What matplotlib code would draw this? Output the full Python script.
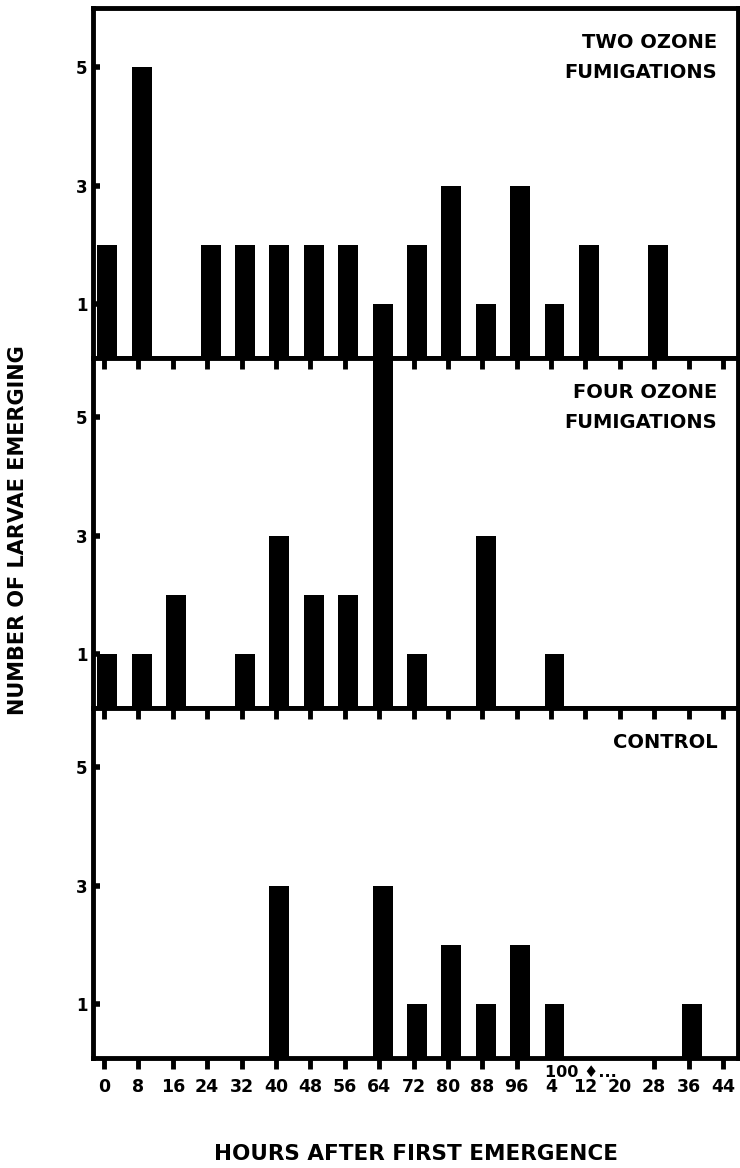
import matplotlib
matplotlib.use('Agg')
import matplotlib.pyplot as plt

plt.rcParams['font.family'] = ['DejaVu Sans']
plt.rcParams['font.weight'] = 'bold'

# hours after first emergence (tick labels wrap after 100)
tick_labels = ['0', '8', '16', '24', '32', '40', '48', '56', '64', '72',
               '80', '88', '96', '4', '12', '20', '28', '36', '44']

# number of larvae emerging in each 8 h interval
two_ozone = [2, 5, 0, 2, 2, 2, 2, 2, 1, 2, 3, 1, 3, 1, 2, 0, 2, 0, 0]
four_ozone = [1, 1, 2, 0, 1, 3, 2, 2, 6, 1, 0, 3, 0, 1, 0, 0, 0, 0, 0]
control = [0, 0, 0, 0, 0, 3, 0, 0, 3, 1, 2, 1, 2, 1, 0, 0, 0, 1, 0]

panels = [(two_ozone, 'TWO OZONE\nFUMIGATIONS'),
          (four_ozone, 'FOUR OZONE\nFUMIGATIONS'),
          (control, 'CONTROL')]

fig, axes = plt.subplots(3, 1, figsize=(7.4, 11.68), dpi=100, sharex=True)
fig.subplots_adjust(left=0.1257, right=0.997, top=0.993, bottom=0.094, hspace=0)

x = list(range(len(tick_labels)))
for k, (ax, (vals, label)) in enumerate(zip(axes, panels)):
    # bars sit a touch right of the tick marks in the original drawing
    ax.bar([i + 0.1 for i in x], vals, width=0.58, color='black')
    ax.set_xlim(-0.32, 18.43)
    ax.set_ylim(0.09, 6.0)
    ax.set_yticks([1, 3, 5])
    ax.tick_params(axis='y', direction='in', length=5, width=4, labelsize=12, pad=4)
    for s in ax.spines.values():
        s.set_linewidth(3.5)
    ax.text(0.968, 0.93, label, transform=ax.transAxes, ha='right', va='top',
            fontsize=14, fontweight='bold', linespacing=1.75)
    if k > 0:
        top = ax.secondary_xaxis('top')
        top.set_xticks(x)
        top.tick_params(direction='in', length=8, width=3.5, labeltop=False)
        top.spines['top'].set_visible(False)
    if k < 2:
        ax.tick_params(axis='x', bottom=False)

ax = axes[2]
ax.set_xticks(x)
ax.set_xticklabels(tick_labels)
ax.tick_params(axis='x', direction='out', length=8, width=3.5, labelsize=12.5, pad=6)
for i in (13, 14, 15):
    ax.xaxis.get_major_ticks()[i].tick1line.set_visible(False)
ax.text(12.82, -0.04, '100 \u2666...', transform=ax.get_xaxis_transform(),
        ha='left', va='center', fontsize=11.5, fontweight='bold')

fig.text(0.024, 0.546, 'NUMBER OF LARVAE EMERGING', rotation=90, ha='center',
         va='center', fontsize=15, fontweight='bold')
fig.text(0.562, 0.012, 'HOURS AFTER FIRST EMERGENCE', ha='center', va='center',
         fontsize=15.5, fontweight='bold')

fig.savefig('out.png', dpi=100)
